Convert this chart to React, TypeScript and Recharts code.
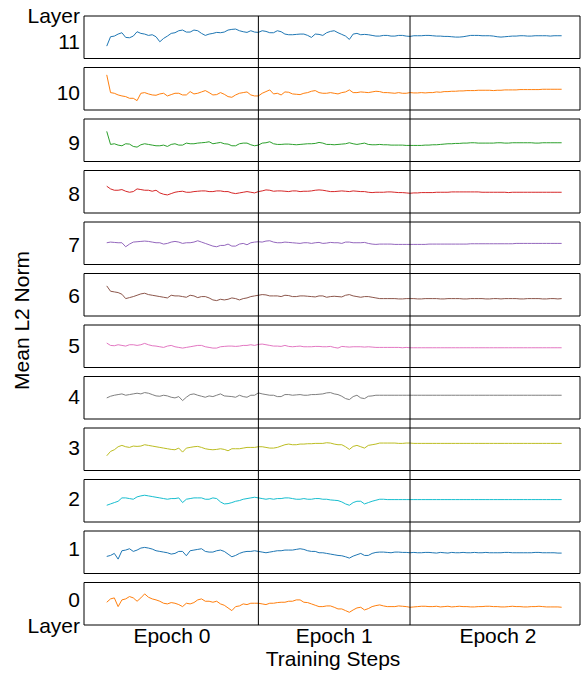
import React from "react";
import { LineChart, Line, XAxis, YAxis, ReferenceArea, ReferenceLine } from "recharts";

// mean L2 norm per layer, 40 samples per epoch (scaled units, panel range 0..127)
const layer11 = [
  37,65,67,73,77,63,62,67,80,75,73,69,71,65,50,60,67,75,77,83,85,79,79,85,83,75,69,73,75,78,77,79,85,87,88,83,80,78,83,79,
  78,83,81,77,77,83,80,73,71,71,72,73,73,69,63,73,72,69,77,81,83,77,72,67,57,73,75,71,72,71,69,67,67,69,69,67,67,69,69,67,
  66,68,68,68,69,69,68,67,67,66,66,65,64,64,65,67,69,69,69,68,68,68,67,65,64,65,66,67,67,68,68,67,67,68,68,68,68,67,68,68,68,
];
const layer10 = [
  105,52,50,45,42,40,35,35,28,50,52,48,45,44,48,50,42,46,50,50,45,45,55,48,50,54,58,52,45,46,52,47,40,38,45,50,52,54,45,42,
  42,50,55,60,48,50,45,54,53,48,47,46,50,52,56,58,52,50,50,52,50,48,52,54,60,52,52,54,53,52,54,56,55,52,52,51,50,52,50,50,
  52,51,51,52,51,52,52,54,53,55,55,56,56,57,57,58,58,58,59,59,59,59,58,59,59,60,60,60,60,61,61,61,61,61,61,62,62,62,62,62,62,
];
const layer9 = [
  90,51,53,49,47,53,52,45,43,50,53,51,49,47,47,49,45,51,53,49,49,55,53,53,55,56,57,59,53,55,57,53,52,47,47,53,55,55,50,47,
  49,55,56,59,53,51,51,52,52,51,50,51,52,53,53,54,57,55,51,51,50,51,52,53,56,53,51,53,55,51,50,50,51,50,50,49,49,49,49,48,
  48,48,48,48,49,49,50,50,51,52,53,53,54,54,55,55,56,56,55,55,55,55,55,56,56,55,55,56,56,56,56,56,56,55,55,56,56,56,56,56,56,
];
const layer8 = [
  80,72,68,68,70,65,62,64,72,70,68,68,65,68,60,56,54,58,62,64,65,62,62,64,65,66,66,64,64,66,66,64,64,60,58,60,62,64,62,60,
  64,66,69,68,65,66,66,65,64,66,66,64,65,65,66,68,69,68,66,64,64,65,66,65,64,66,65,64,64,62,61,62,62,62,63,63,62,61,61,60,
  59,60,60,61,61,61,61,62,62,62,62,63,63,63,63,63,63,63,63,62,62,62,62,62,62,62,61,62,62,62,62,62,62,62,62,62,62,62,62,62,62,
];
const layer7 = [
  65,67,66,65,65,53,61,67,68,69,70,69,67,65,65,61,63,67,69,67,63,65,65,67,71,67,63,59,55,53,57,57,61,55,55,61,63,59,65,67,
  68,67,70,71,67,65,65,67,66,65,64,63,65,65,63,65,66,63,64,66,65,65,63,67,67,65,65,65,66,63,61,60,61,61,61,61,60,60,60,60,
  60,60,60,60,60,61,61,61,61,61,61,61,61,61,61,61,62,62,62,62,62,62,62,62,62,62,62,62,63,63,63,63,63,63,63,63,63,63,63,63,63,
];
const layer6 = [
  90,74,72,70,65,52,55,58,62,66,68,64,62,60,58,56,54,62,60,60,58,56,62,60,55,58,58,54,48,46,50,48,50,54,52,48,52,54,58,60,
  62,64,63,60,60,60,58,62,61,58,58,60,60,59,58,57,60,60,56,58,59,58,57,62,64,60,58,56,58,58,56,54,52,52,52,52,52,51,51,52,
  52,52,51,51,52,52,52,52,51,51,52,52,52,52,51,51,52,52,52,52,51,51,52,52,51,52,52,52,52,51,51,52,52,52,52,51,51,52,52,51,52,
];
const layer5 = [
  73,66,65,68,66,64,68,68,66,68,72,68,65,64,62,60,64,66,62,60,58,60,62,64,66,66,62,60,58,58,62,63,64,64,63,64,66,66,68,66,
  69,70,68,66,64,64,63,66,63,62,63,64,62,62,62,63,63,62,62,63,60,58,63,62,61,62,62,62,61,62,61,60,60,60,60,60,60,60,59,60,
  59,59,59,59,59,59,59,59,59,59,59,59,59,59,59,59,59,59,59,59,59,59,59,59,59,59,59,59,59,59,59,59,59,59,59,59,59,59,59,59,59,
];
const layer4 = [
  63,68,71,73,75,71,73,75,77,75,79,77,73,69,68,71,69,65,63,67,55,65,73,75,71,68,65,69,67,71,75,69,68,67,65,71,67,65,71,71,
  78,75,73,71,71,67,67,73,73,71,72,73,71,71,73,73,74,75,78,79,75,73,68,61,58,67,71,63,61,68,69,71,71,71,71,71,71,71,71,71,
  71,71,71,71,71,71,71,71,71,71,71,71,71,71,71,71,71,71,71,71,71,71,71,71,71,71,71,71,71,71,71,71,71,71,71,71,71,71,71,71,71,
];
const layer3 = [
  44,57,62,71,75,71,69,73,72,73,77,75,73,71,69,67,65,63,62,67,55,67,69,71,72,69,65,63,62,63,65,63,59,65,65,65,67,69,69,69,
  71,71,69,67,67,69,73,77,79,77,77,79,79,80,80,81,81,81,83,82,79,77,77,71,63,72,75,71,67,75,77,79,82,82,82,82,82,81,81,82,
  82,81,81,81,81,81,81,81,81,81,81,81,81,81,81,81,81,81,81,81,81,81,81,81,81,81,81,81,81,81,81,81,81,81,81,81,81,81,81,81,81,
];
const layer2 = [
  50,54,58,62,72,72,70,68,75,78,80,78,76,74,72,70,68,70,70,72,58,68,70,72,72,72,68,68,72,70,60,54,55,58,62,64,68,70,72,74,
  72,70,68,70,68,70,70,72,72,70,68,68,70,68,68,70,70,68,68,66,65,64,60,54,50,58,62,62,54,58,62,65,68,68,67,67,67,67,67,67,
  67,67,67,67,67,67,67,67,67,67,67,67,67,67,67,67,67,67,67,67,67,67,67,67,67,67,67,67,67,67,67,67,67,67,67,67,67,67,67,67,67,
];
const layer1 = [
  51,54,60,43,68,70,74,66,70,76,78,76,73,68,66,64,62,58,60,66,66,53,68,70,72,74,66,64,64,68,70,66,58,50,54,60,64,66,66,68,
  66,64,62,64,66,68,68,70,70,70,72,74,72,68,66,66,62,62,60,58,56,54,53,50,46,52,56,60,54,54,60,63,64,64,63,62,64,64,63,63,
  62,63,62,62,63,63,62,61,63,62,61,63,62,62,63,62,62,63,62,62,63,62,62,62,62,63,63,62,62,62,62,62,62,63,63,62,62,62,62,61,61,
];
const layer0 = [
  68,78,81,55,75,78,85,81,71,81,93,83,78,75,71,65,63,67,65,61,55,65,63,67,75,78,71,71,68,71,63,59,51,43,55,57,63,61,65,65,
  65,63,61,65,65,67,68,68,71,71,75,75,68,67,63,59,55,55,57,57,53,48,48,43,38,45,51,53,45,49,55,58,60,57,55,55,55,57,56,55,
  53,54,55,56,56,55,55,56,54,55,56,54,55,56,55,55,54,54,55,55,56,56,55,55,54,54,55,56,55,55,54,54,55,55,56,55,54,54,54,54,53,
];

const layers = [11, 10, 9, 8, 7, 6, 5, 4, 3, 2, 1, 0];
const series = [layer11, layer10, layer9, layer8, layer7, layer6, layer5, layer4, layer3, layer2, layer1, layer0];
const colors = ["#1f77b4", "#ff7f0e", "#2ca02c", "#d62728", "#9467bd", "#8c564b", "#e377c2", "#7f7f7f", "#bcbd22", "#17becf", "#1f77b4", "#ff7f0e"];
const epochLabels = ["Epoch 0", "Epoch 1", "Epoch 2"];
const epochTicks = [0.43, 1.5, 2.58];
const epochBounds = [1, 2];
const STEPS_PER_EPOCH = 40;

const FONT = '"Liberation Sans", Arial, Helvetica, sans-serif';
const TOP = 16;
const BOTTOM = 625;
const PANEL_H = 42.5;
const PITCH = 51.5;
const VMAX = 127;
const X_DOMAIN: [number, number] = [-0.15, 3.121];

const data = layer0.map((_, i) => {
  const row: Record<string, number> = { step: i / STEPS_PER_EPOCH };
  layers.forEach((l, j) => { row[`l${l}`] = series[j][i]; });
  return row;
});

// every panel gets its own hidden y axis, stretched so the series lands in its band
const panelDomain = (j: number): [number, number] => {
  const top = TOP + j * PITCH;
  const bot = top + PANEL_H;
  const s = VMAX / PANEL_H;
  return [-(BOTTOM - bot) * s, VMAX + (top - TOP) * s];
};

function LayerLabel({ viewBox, layer, j }: any) {
  const { x, y, height } = viewBox;
  const base = y + height / 2 + 4 - (8 * j) / 11 + 7.5;
  const tx = x - 4;
  const t = { textAnchor: "end" as const, fontSize: 21, fontFamily: FONT, fill: "#000" };
  return (
    <g>
      {layer === 11 && <text x={tx} y={base - 25.7} {...t}>Layer</text>}
      <text x={tx} y={base} {...t}>{layer}</text>
      {layer === 0 && <text x={tx} y={base + 25.8} {...t}>Layer</text>}
    </g>
  );
}

export default function App() {
  return (
    <div style={{ position: "absolute", left: 0, top: 0, width: 584, height: 673, background: "#fff" }}>
      <LineChart width={584} height={673} data={data} margin={{ top: TOP, right: 4, bottom: 0, left: 8 }}>
        <XAxis
          dataKey="step"
          type="number"
          domain={X_DOMAIN}
          allowDataOverflow
          ticks={epochTicks}
          tickFormatter={(_v: number, i: number) => epochLabels[i]}
          axisLine={false}
          tickLine={false}
          tickSize={0}
          tickMargin={3}
          height={48}
          tick={{ fontSize: 21, fontFamily: FONT, fill: "#000" }}
          label={() => (
            <text x={333} y={666} textAnchor="middle" fontSize={21} fontFamily={FONT} fill="#000">Training Steps</text>
          )}
        />
        <YAxis
          yAxisId="label"
          width={76}
          domain={[0, 1]}
          tick={false}
          axisLine={false}
          tickLine={false}
          label={() => (
            <text x={21} y={(TOP + BOTTOM) / 2} transform={`rotate(-90 21 ${(TOP + BOTTOM) / 2})`} textAnchor="middle" dominantBaseline="central" fontSize={21} fontFamily={FONT} fill="#000">Mean L2 Norm</text>
          )}
        />
        {layers.map((l, j) => (
          <YAxis key={`y${l}`} yAxisId={`p${j}`} hide type="number" domain={panelDomain(j)} allowDataOverflow />
        ))}
        {layers.map((l, j) => (
          <ReferenceArea
            key={`f${l}`}
            yAxisId={`p${j}`}
            x1={X_DOMAIN[0]}
            x2={X_DOMAIN[1]}
            y1={0}
            y2={VMAX}
            fill="none"
            fillOpacity={0}
            stroke="#000"
            strokeWidth={1}
            label={(p: any) => <LayerLabel viewBox={p.viewBox} layer={l} j={j} />}
          />
        ))}
        {layers.map((l, j) => (
          <Line
            key={`l${l}`}
            yAxisId={`p${j}`}
            dataKey={`l${l}`}
            type="linear"
            stroke={colors[j]}
            strokeWidth={1}
            dot={false}
            isAnimationActive={false}
          />
        ))}
        {epochBounds.map((b) => (
          <ReferenceLine key={`e${b}`} x={b} yAxisId="p0" stroke="#000" strokeWidth={1} />
        ))}
      </LineChart>
    </div>
  );
}
